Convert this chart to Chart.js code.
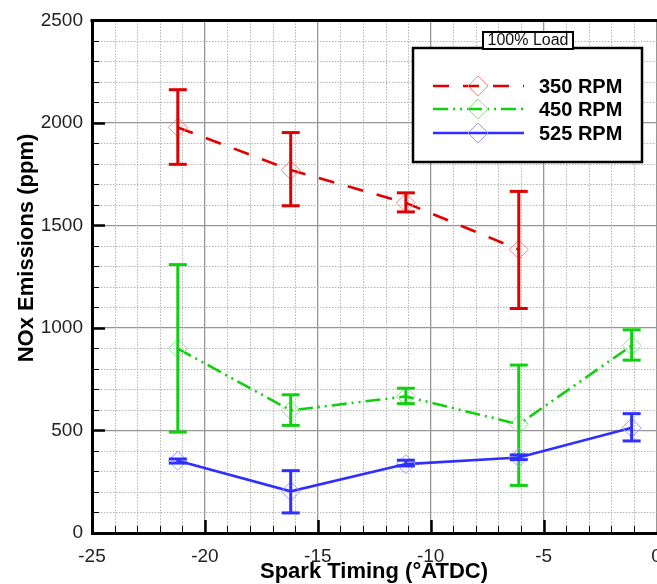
<!DOCTYPE html>
<html lang="en">
<head>
  <meta charset="UTF-8">
  <title>NOx Emissions vs Spark Timing</title>
  <script src="https://cdn.jsdelivr.net/npm/chart.js@4/dist/chart.umd.min.js"></script>
  <style>
    html, body {
      margin: 0;
      padding: 0;
      background: #fff;
      overflow: hidden;
    }
    #wrap {
      position: relative;
      width: 667px;
      height: 584px;
    }
  </style>
</head>
<body>
  <div id="wrap"><canvas id="chart"></canvas></div>
  <script>
    // Spark timing (deg ATDC) at which each load point was measured
    const sparkTiming = [-21.2, -16.2, -11.1, -6.1, -1.1];

    // 350 RPM (no run at the latest timing)
    const rpm350 = [1978, 1770, 1610, 1382];
    const rpm350Low = [1798, 1596, 1566, 1095];
    const rpm350High = [2162, 1953, 1659, 1666];

    // 450 RPM
    const rpm450 = [899, 598, 666, 530, 914];
    const rpm450Low = [492, 525, 631, 232, 843];
    const rpm450High = [1309, 674, 706, 819, 991];

    // 525 RPM
    const rpm525 = [352, 203, 336, 368, 513];
    const rpm525Low = [341, 98, 327, 358, 449];
    const rpm525High = [361, 304, 355, 381, 582];

    // Axis ticks
    const xTicks = [-25, -20, -15, -10, -5, 0];
    const yTicks = [0, 500, 1000, 1500, 2000, 2500];

    const FONT = "'Liberation Sans', Arial, Helvetica, sans-serif";

    /**
     * Builds {x, y} points for a series from the shared timing array
     */
    function toPoints(values) {
      return values.map((v, i) => ({ x: sparkTiming[i], y: v }));
    }

    const datasets = [
      {
        label: '350 RPM',
        data: toPoints(rpm350),
        low: rpm350Low,
        high: rpm350High,
        borderColor: '#e00000',
        markerColor: '#f08a8a',
        borderDash: [16, 14],
        order: 3,
      },
      {
        label: '450 RPM',
        data: toPoints(rpm450),
        low: rpm450Low,
        high: rpm450High,
        borderColor: '#10d010',
        markerColor: '#86e886',
        borderDash: [15, 5, 2, 5, 2, 5],
        order: 2,
      },
      {
        label: '525 RPM',
        data: toPoints(rpm525),
        low: rpm525Low,
        high: rpm525High,
        borderColor: '#2f2fff',
        markerColor: '#9a9aff',
        borderDash: [],
        order: 1,
      },
    ].map((ds) => ({
      ...ds,
      borderWidth: 2.6,
      pointStyle: 'rectRot',
      pointRadius: 9.5,
      pointHoverRadius: 9.5,
      pointBorderWidth: 1,
      pointBorderColor: ds.markerColor,
      pointBackgroundColor: 'rgba(0,0,0,0)',
      tension: 0,
      fill: false,
    }));

    /**
     * Draws a hollow diamond marker
     */
    function diamond(ctx, cx, cy, r, color) {
      ctx.save();
      ctx.setLineDash([]);
      ctx.strokeStyle = color;
      ctx.lineWidth = 1;
      ctx.beginPath();
      ctx.moveTo(cx, cy - r);
      ctx.lineTo(cx + r, cy);
      ctx.lineTo(cx, cy + r);
      ctx.lineTo(cx - r, cy);
      ctx.closePath();
      ctx.stroke();
      ctx.restore();
    }

    function seg(ctx, x1, y1, x2, y2) {
      ctx.beginPath();
      ctx.moveTo(x1, y1);
      ctx.lineTo(x2, y2);
      ctx.stroke();
    }

    // Minor dotted grid, inward tick marks and the top frame line
    const framePlugin = {
      id: 'frame',
      beforeDatasetsDraw(chart) {
        const { ctx, chartArea: a, scales } = chart;
        const x = scales.x;
        const y = scales.y;
        ctx.save();

        // minor grid (dotted)
        ctx.strokeStyle = '#b4b4b4';
        ctx.lineWidth = 1;
        ctx.setLineDash([1.5, 1.5]);
        for (let v = -24; v < 0; v++) {
          if (v % 5 === 0) continue;
          const px = Math.round(x.getPixelForValue(v)) + 0.5;
          seg(ctx, px, a.top, px, a.bottom);
        }
        for (let v = 100; v < 2500; v += 100) {
          if (v % 500 === 0) continue;
          const py = Math.round(y.getPixelForValue(v)) + 0.5;
          seg(ctx, a.left, py, a.right, py);
        }
        ctx.setLineDash([]);

        // tick marks pointing into the plot
        ctx.strokeStyle = '#000';
        for (let v = -24; v < 0; v++) {
          const major = v % 5 === 0;
          ctx.lineWidth = major ? 2.5 : 1;
          const px = Math.round(x.getPixelForValue(v)) + 0.5;
          seg(ctx, px, a.bottom, px, a.bottom - (major ? 13 : 7));
        }
        for (let v = 100; v < 2500; v += 100) {
          const major = v % 500 === 0;
          ctx.lineWidth = major ? 2.5 : 1;
          const py = Math.round(y.getPixelForValue(v)) + 0.5;
          seg(ctx, a.left, py, a.left + (major ? 13 : 7), py);
        }

        // top frame
        ctx.lineWidth = 3;
        seg(ctx, a.left - 1.5, a.top, a.right + 2, a.top);
        ctx.restore();
      },
    };

    // Vertical error bars with caps, drawn with each dataset
    const errorBarPlugin = {
      id: 'errorBars',
      afterDatasetDraw(chart, args) {
        const ds = chart.data.datasets[args.index];
        const y = chart.scales.y;
        const ctx = chart.ctx;
        const cap = 9;
        ctx.save();
        ctx.strokeStyle = ds.borderColor;
        ctx.lineWidth = 3;
        ctx.setLineDash([]);
        args.meta.data.forEach((pt, i) => {
          const yLo = y.getPixelForValue(ds.low[i]);
          const yHi = y.getPixelForValue(ds.high[i]);
          seg(ctx, pt.x, yLo, pt.x, yHi);
          seg(ctx, pt.x - cap, yLo, pt.x + cap, yLo);
          seg(ctx, pt.x - cap, yHi, pt.x + cap, yHi);
        });
        ctx.restore();
      },
    };

    // Boxed legend with its "100% Load" tab, and the axis titles
    const annotatePlugin = {
      id: 'annotate',
      afterDraw(chart) {
        const { ctx, chartArea: a } = chart;
        ctx.save();

        // legend box
        ctx.fillStyle = '#fff';
        ctx.strokeStyle = '#000';
        ctx.lineWidth = 2.5;
        ctx.fillRect(413, 48, 229, 114);
        ctx.strokeRect(413, 48, 229, 114);

        // title tab
        ctx.lineWidth = 2;
        ctx.fillRect(483, 32, 90, 17);
        ctx.strokeRect(483, 32, 90, 17);
        ctx.fillStyle = '#111';
        ctx.font = `16px ${FONT}`;
        ctx.textAlign = 'center';
        ctx.textBaseline = 'middle';
        ctx.fillText('100% Load', 528, 41);

        // entries
        const rows = [86, 109, 133];
        chart.data.datasets.forEach((ds, i) => {
          const ry = rows[i];
          ctx.strokeStyle = ds.borderColor;
          ctx.lineWidth = 2.6;
          ctx.setLineDash(ds.borderDash);
          seg(ctx, 433, ry, 524, ry);
          ctx.setLineDash([]);
          diamond(ctx, 478, ry, 10, ds.markerColor);
          ctx.fillStyle = '#000';
          ctx.font = `bold 20px ${FONT}`;
          ctx.textAlign = 'left';
          ctx.fillText(ds.label, 539, ry + 1);
        });

        // axis titles
        ctx.fillStyle = '#000';
        ctx.font = `bold 22px ${FONT}`;
        ctx.textAlign = 'center';
        ctx.textBaseline = 'middle';
        ctx.fillText('Spark Timing (\u00b0ATDC)', 374, 572);
        ctx.translate(27, 248);
        ctx.rotate(-Math.PI / 2);
        ctx.fillText('NOx Emissions (ppm)', 0, 0);
        ctx.restore();
      },
    };

    new Chart(document.getElementById('chart'), {
      type: 'line',
      data: { datasets },
      options: {
        responsive: true,
        maintainAspectRatio: false,
        devicePixelRatio: 1,
        animation: false,
        layout: { padding: { top: 15, right: 1, left: 0, bottom: 0 } },
        plugins: {
          legend: { display: false },
          tooltip: { enabled: false },
        },
        scales: {
          x: {
            type: 'linear',
            min: xTicks[0],
            max: xTicks[xTicks.length - 1],
            afterBuildTicks(scale) {
              scale.ticks = xTicks.map((v) => ({ value: v }));
            },
            afterFit(scale) {
              scale.height = 51;
              scale.paddingLeft = 0;
              scale.paddingRight = 0;
            },
            ticks: {
              padding: 12,
              maxRotation: 0,
              font: { family: FONT, size: 19 },
              color: '#222',
              callback: (v) => String(v),
            },
            grid: { color: '#969696', lineWidth: 1.3, drawTicks: false },
            border: { color: '#000', width: 3 },
          },
          y: {
            min: yTicks[0],
            max: yTicks[yTicks.length - 1],
            afterBuildTicks(scale) {
              scale.ticks = yTicks.map((v) => ({ value: v }));
            },
            afterFit(scale) {
              scale.width = 92;
            },
            ticks: {
              padding: 9,
              font: { family: FONT, size: 19 },
              color: '#222',
              callback: (v) => String(v),
            },
            grid: { color: '#969696', lineWidth: 1.3, drawTicks: false },
            border: { color: '#000', width: 3 },
          },
        },
      },
      plugins: [framePlugin, errorBarPlugin, annotatePlugin],
    });
  </script>
</body>
</html>
